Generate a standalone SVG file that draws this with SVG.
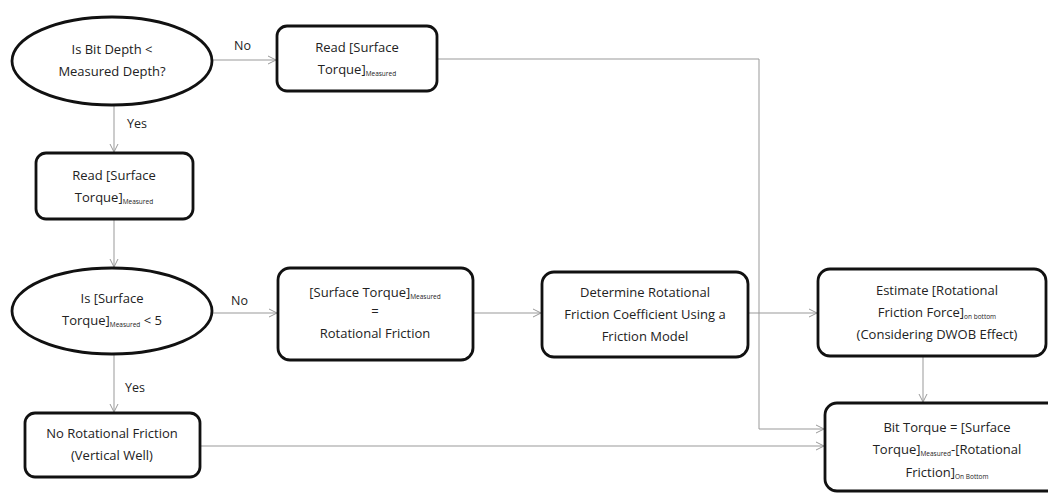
<svg xmlns="http://www.w3.org/2000/svg" width="1048" height="494" viewBox="0 0 1048 494">
<defs>
<style>
.n{fill:#fff;stroke:#111;stroke-width:2.8}
.t{font-family:"Open Sans","Liberation Sans",sans-serif;font-size:13px;fill:#222;text-anchor:middle}
.s{font-size:6.5px}
.c{fill:none;stroke:#999;stroke-width:1}
.l{font-family:"Open Sans","Liberation Sans",sans-serif;font-size:12.5px;fill:#222}
</style>
<marker id="a" markerWidth="10" markerHeight="10" refX="9" refY="5" orient="auto" markerUnits="userSpaceOnUse">
<path d="M1,1 L9,5 L1,9" fill="none" stroke="#999" stroke-width="1"/>
</marker>
</defs>
<rect width="1048" height="494" fill="#fff"/>
<g id="connectors">
<path class="c" d="M213,60 H276" marker-end="url(#a)"/>
<path class="c" d="M114,105 V152" marker-end="url(#a)"/>
<path class="c" d="M114,219 V267" marker-end="url(#a)"/>
<path class="c" d="M213,313 H277" marker-end="url(#a)"/>
<path class="c" d="M114,355 V412" marker-end="url(#a)"/>
<path class="c" d="M473,313 H541" marker-end="url(#a)"/>
<path class="c" d="M748,313 H817" marker-end="url(#a)"/>
<path class="c" d="M923,356 V402" marker-end="url(#a)"/>
<path class="c" d="M437,59 H759 V429 H824" marker-end="url(#a)"/>
<path class="c" d="M200,446 H824" marker-end="url(#a)"/>
<text class="l" x="234" y="50">No</text>
<text class="l" x="127" y="128">Yes</text>
<text class="l" x="231" y="305">No</text>
<text class="l" x="125" y="392">Yes</text>
</g>
<g id="n1">
<ellipse class="n" cx="112" cy="61" rx="100" ry="44"/>
<text class="t" x="112" y="54">Is Bit Depth &lt;</text>
<text class="t" x="112" y="76">Measured Depth?</text>
</g>
<g id="n2">
<rect class="n" x="277" y="26" width="160" height="65" rx="10"/>
<text class="t" x="357" y="52">Read [Surface</text>
<text class="t" x="357" y="74">Torque]<tspan class="s" dy="2">Measured</tspan></text>
</g>
<g id="n3">
<rect class="n" x="36" y="153" width="157" height="66" rx="10"/>
<text class="t" x="114" y="180">Read [Surface</text>
<text class="t" x="114" y="202">Torque]<tspan class="s" dy="2">Measured</tspan></text>
</g>
<g id="n4">
<ellipse class="n" cx="112" cy="311" rx="100" ry="43"/>
<text class="t" x="112" y="303">Is [Surface</text>
<text class="t" x="112" y="325">Torque]<tspan class="s" dy="2">Measured</tspan><tspan dy="-2"> &lt; 5</tspan></text>
</g>
<g id="n5">
<rect class="n" x="278" y="268" width="195" height="92" rx="12"/>
<text class="t" x="375" y="297">[Surface Torque]<tspan class="s" dy="2">Measured</tspan></text>
<text class="t" x="375" y="316">=</text>
<text class="t" x="375" y="338">Rotational Friction</text>
</g>
<g id="n6">
<rect class="n" x="542" y="272" width="206" height="85" rx="12"/>
<text class="t" x="645" y="297">Determine Rotational</text>
<text class="t" x="645" y="319">Friction Coefficient Using a</text>
<text class="t" x="645" y="341">Friction Model</text>
</g>
<g id="n7">
<rect class="n" x="818" y="269" width="228" height="87" rx="12"/>
<text class="t" x="937" y="295">Estimate [Rotational</text>
<text class="t" x="937" y="317">Friction Force]<tspan class="s" dy="2">on bottom</tspan></text>
<text class="t" x="937" y="339">(Considering DWOB Effect)</text>
</g>
<g id="n8">
<rect class="n" x="825" y="403" width="250" height="88" rx="12"/>
<text class="t" x="947" y="432">Bit Torque = [Surface</text>
<text class="t" x="947" y="454">Torque]<tspan class="s" dy="2">Measured</tspan><tspan dy="-2">-[Rotational</tspan></text>
<text class="t" x="947" y="477">Friction]<tspan class="s" dy="2">On Bottom</tspan></text>
</g>
<g id="n9">
<rect class="n" x="25" y="413" width="175" height="64" rx="10"/>
<text class="t" x="112" y="438">No Rotational Friction</text>
<text class="t" x="112" y="460">(Vertical Well)</text>
</g>
</svg>
